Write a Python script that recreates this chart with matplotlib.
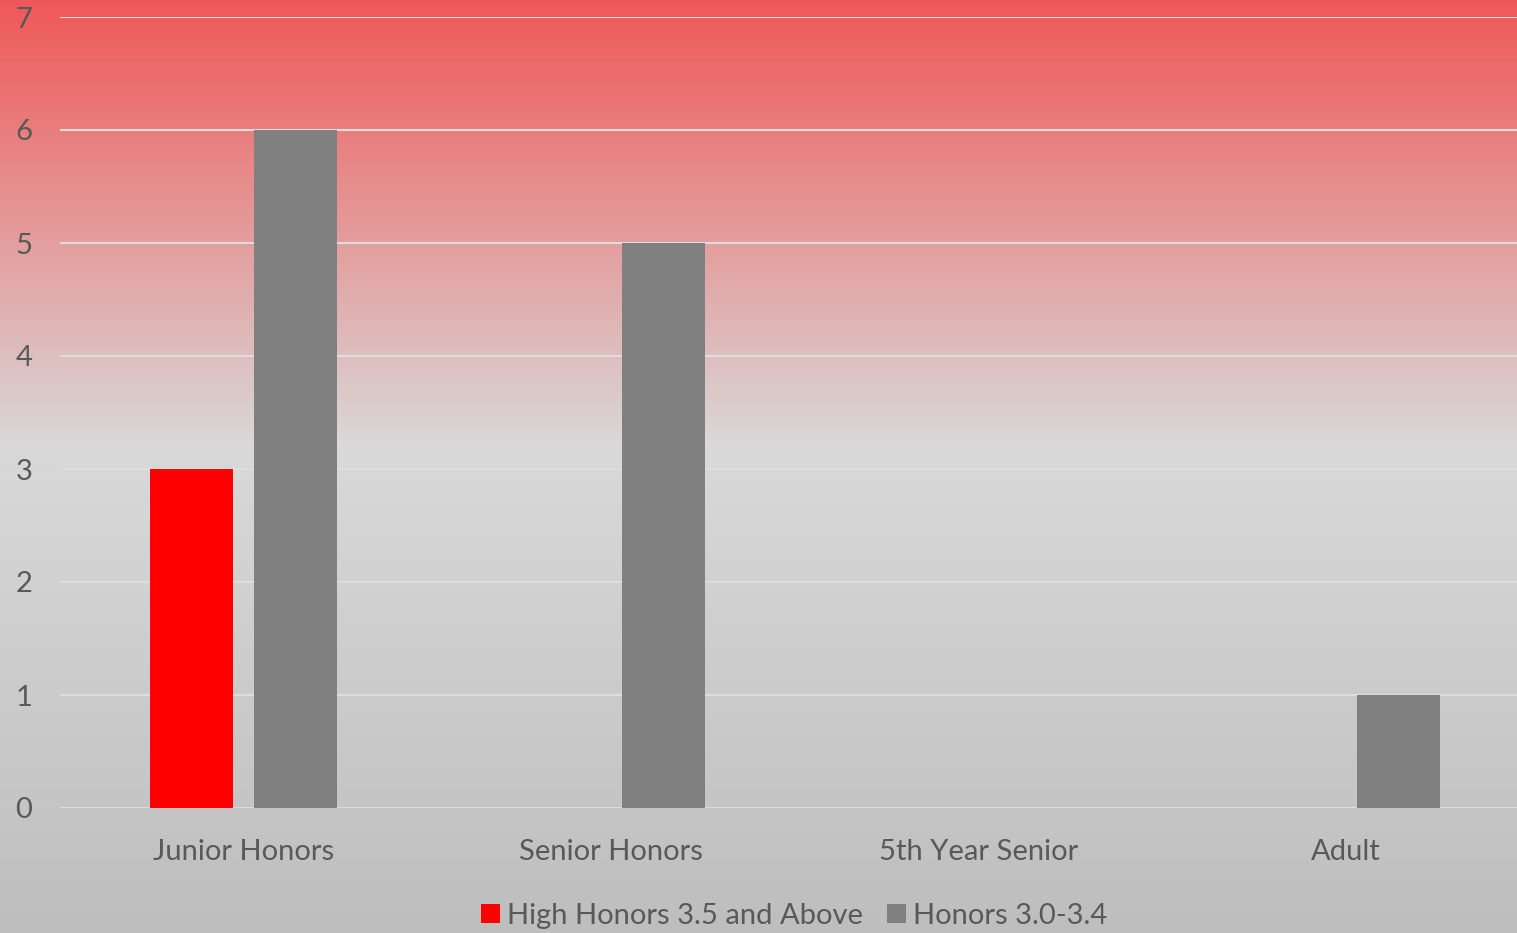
import matplotlib.pyplot as plt
import numpy as np

plt.rcParams['font.family'] = ['Lato', 'DejaVu Sans']

categories = ['Junior Honors', 'Senior Honors', '5th Year Senior', 'Adult']
high_honors = [3, 0, 0, 0]
honors = [6, 5, 0, 1]
series_names = ['High Honors 3.5 and Above', 'Honors 3.0-3.4']

fig = plt.figure(figsize=(15.17, 9.33), dpi=100)

# background gradient: red at top, light grey in middle, darker grey at bottom
stops = np.array([0.0, 0.48, 1.0])
cols = np.array([[240, 88, 88], [217, 217, 217], [190, 190, 190]]) / 255
t = np.linspace(0, 1, 500)
grad = np.stack([np.interp(t, stops, cols[:, i]) for i in range(3)], axis=1)
bg = fig.add_axes([0, 0, 1, 1], zorder=0)
bg.imshow(grad[:, None, :], aspect='auto', extent=[0, 1, 0, 1])
bg.axis('off')

ax = fig.add_axes([60 / 1517, 125 / 933, 1470 / 1517, 791 / 933], zorder=1)
ax.set_facecolor('none')

x = np.arange(len(categories))
w = 0.226
off = 0.1415
ax.bar(x - off, high_honors, w, color='#FF0000', label=series_names[0], zorder=3)
ax.bar(x + off, honors, w, color='#808080', label=series_names[1], zorder=3)

ax.set_xlim(-0.5, 3.5)
ax.set_ylim(0, 7)
ax.set_yticks(range(0, 8))
ax.set_xticks(x)
ax.set_xticklabels(categories)
ax.grid(axis='y', color='#DDDDDD', linewidth=1.5, zorder=1)
ax.tick_params(axis='both', length=0, labelsize=21, labelcolor='#595959')
ax.tick_params(axis='y', pad=20)
ax.tick_params(axis='x', pad=22)
for s in ax.spines.values():
    s.set_visible(False)

leg = fig.legend(loc='center', bbox_to_anchor=(794 / 1517, 17 / 933), ncol=2, frameon=False,
                 fontsize=21, handlelength=0.65, handleheight=0.65, handletextpad=0.25,
                 columnspacing=0.8, labelcolor='#595959')

plt.savefig('out.png', dpi=100)
